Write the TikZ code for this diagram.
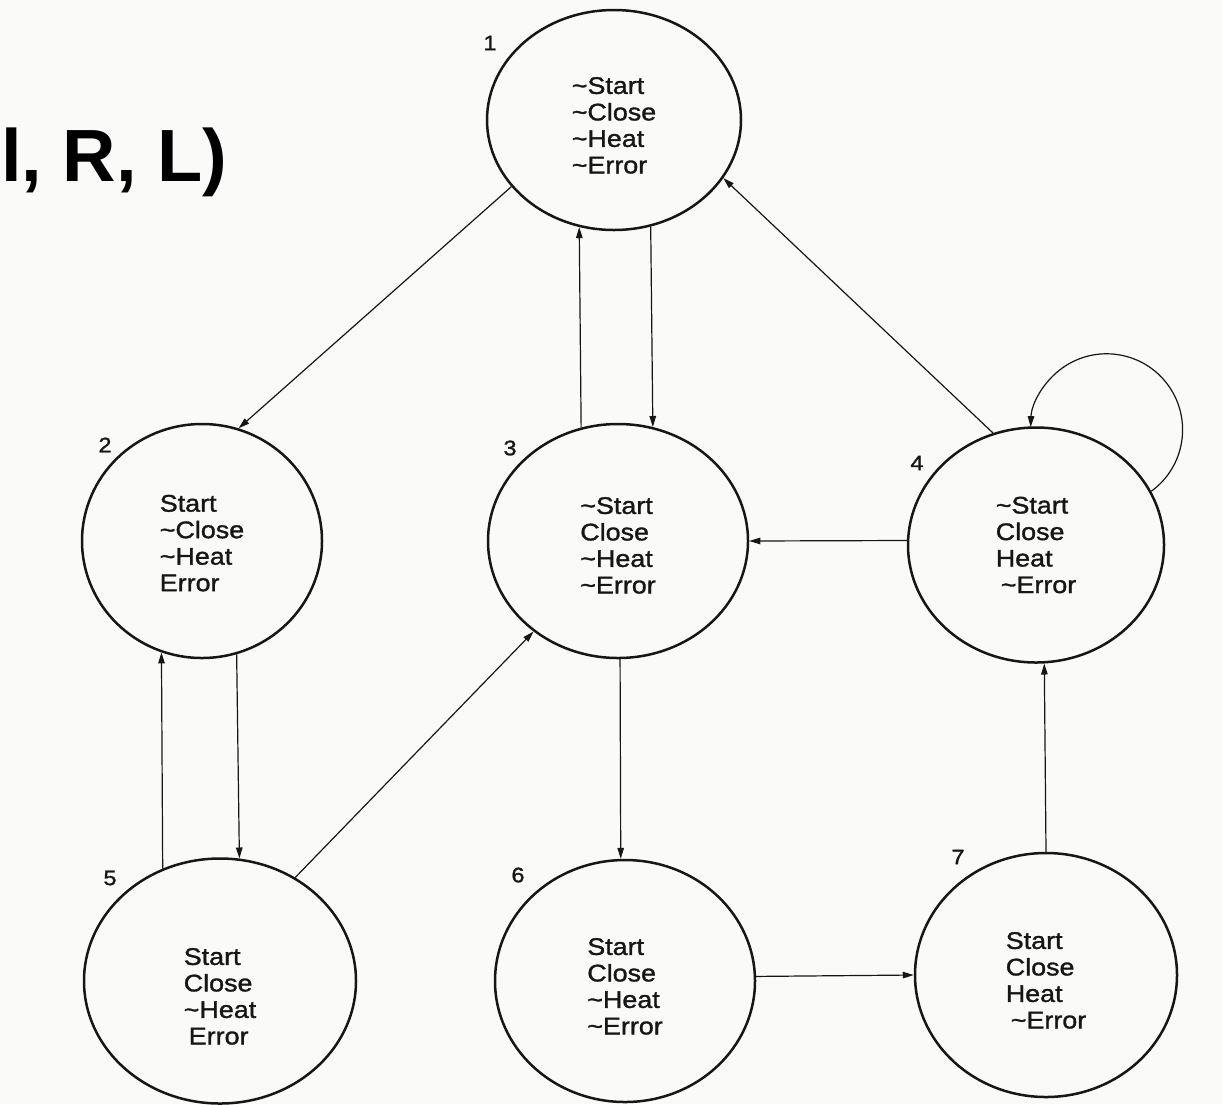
\documentclass[tikz,border=0pt]{standalone}
\usepackage{fontspec}
\setmainfont{Liberation Sans}
\newfontfamily\statefont[FakeStretch=1.12,FakeBold=1.3]{Liberation Sans}
\newfontfamily\titlefont{Liberation Sans}
\usetikzlibrary{shapes.geometric,arrows.meta}
\definecolor{paper}{RGB}{250,250,248}
\definecolor{ink}{RGB}{22,22,22}
\newcommand{\tld}{\textasciitilde}
\newcommand{\dn}[1]{\rule{0pt}{#1}}
\begin{document}
\begin{tikzpicture}[x=1pt,y=-1pt,
  state/.style={ellipse, draw=ink, line width=2.5pt, inner sep=0pt, align=left,
    font=\statefont\fontsize{24}{26.5}\selectfont, text=ink},
  num/.style={font=\statefont\fontsize{21}{23}\selectfont, text=ink, inner sep=0pt},
  conn/.style={draw=ink, line width=1.2pt, -{Triangle[length=11pt,width=6.5pt]}}]
\fill[paper] (0,0) rectangle (1222,1104);
\useasboundingbox (0,0) rectangle (1222,1104);

\node[font=\titlefont\bfseries\fontsize{74}{80}\selectfont, anchor=base west, inner sep=0pt, text=black] (title) at (1,181) {l, R, L)};

\node[state, minimum width=254pt, minimum height=220pt] (n1) at (614,120)
  {\dn{27.5pt}\tld Start\\\tld Close\\\tld Heat\\\tld Error};
\node[state, minimum width=240pt, minimum height=234pt] (n2) at (202,541)
  {\dn{21pt}Start\\\tld Close\\\tld Heat\\Error};
\node[state, minimum width=260pt, minimum height=234pt] (n3) at (618,541)
  {\dn{25.5pt}\tld Start\\Close\\\tld Heat\\\tld Error};
\node[state, minimum width=256pt, minimum height=235pt] (n4) at (1036,545)
  {\tld Start\\Close\\Heat\\\hspace{5pt}\tld Error};
\node[state, minimum width=272pt, minimum height=245pt] (n5) at (220,981)
  {\dn{47.5pt}Start\\Close\\\tld Heat\\\hspace{5pt}Error};
\node[state, minimum width=260pt, minimum height=242pt] (n6) at (625,981)
  {\dn{27.5pt}Start\\Close\\\tld Heat\\\tld Error};
\node[state, minimum width=262pt, minimum height=244pt] (n7) at (1046,975)
  {\dn{27.5pt}Start\\Close\\Heat\\\hspace{5pt}\tld Error};

\node[num] (l1) at (490,43) {1};
\node[num] (l2) at (105,445) {2};
\node[num] (l3) at (510,448) {3};
\node[num] (l4) at (917,463) {4};
\node[num] (l5) at (110,878) {5};
\node[num] (l6) at (518,875) {6};
\node[num] (l7) at (958,857) {7};

\draw[conn] (n1.213) -- (n2.72);
\draw[conn] (n3.108.7) -- (n1.252.2);
\draw[conn] (n1.289.9) -- (n3.73.3);
\draw[conn] (n4.111.4) -- (n1.332);
\draw[conn] (n4.25) arc[start angle=54, end angle=-178, radius=76];
\draw[conn] (n4.178) -- (n3.0);
\draw[conn] (n3.271) -- (n6.92);
\draw[conn] (n6.2) -- (n7.180);
\draw[conn] (n7.90) -- (n4.274);
\draw[conn] (n5.117.6) -- (n2.250);
\draw[conn] (n2.287.9) -- (n5.81.6);
\draw[conn] (n5.54.1) -- (n3.227);
\end{tikzpicture}
\end{document}
